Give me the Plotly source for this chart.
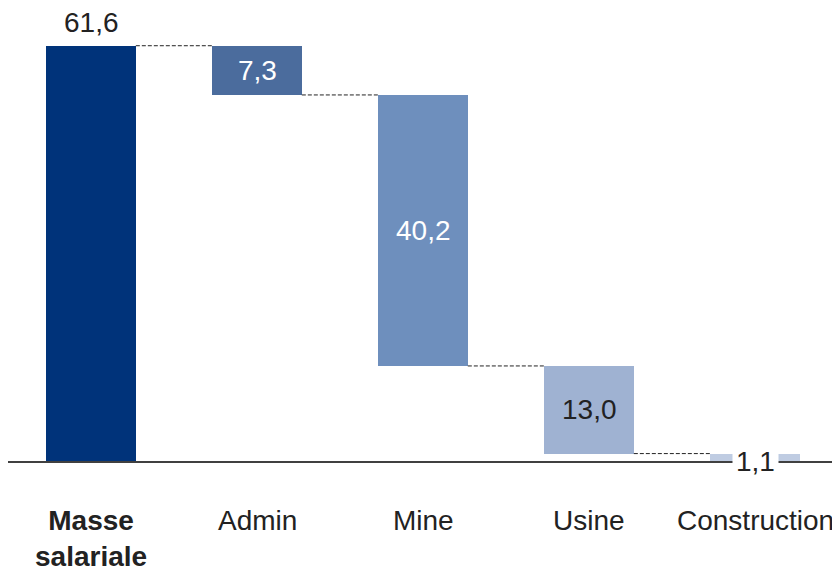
import plotly.graph_objects as go

categories = ["Masse<br>salariale", "Admin", "Mine", "Usine", "Construction"]
values = [61.6, 7.3, 40.2, 13.0, 1.1]
value_labels = ["61,6", "7,3", "40,2", "13,0", "1,1"]
colors = ["#00337a", "#4b6c9d", "#6e8fbd", "#9fb2d2", "#bfcce2"]
label_colors = ["#222222", "#ffffff", "#ffffff", "#222222", "#222222"]
bold_flags = [True, False, False, False, False]

# waterfall geometry derived from the values
bases = [0.0]
tops = [values[0]]
level = values[0]
for v in values[1:]:
    tops.append(level)
    level = round(level - v, 6)
    bases.append(level)
heights = [t - b for t, b in zip(tops, bases)]
xs = list(range(len(categories)))
bar_width = 0.54
FONT = "Liberation Sans, Arial, sans-serif"

fig = go.Figure()
fig.add_trace(go.Bar(
    x=xs, y=heights, base=bases, width=bar_width,
    marker=dict(color=colors, line=dict(width=0)),
    hoverinfo="skip", showlegend=False,
))

shapes = []
for i in range(len(xs) - 1):
    lvl = tops[i + 1]
    shapes.append(dict(type="line", xref="x", yref="y",
                       x0=xs[i] + bar_width / 2, x1=xs[i + 1] - bar_width / 2,
                       y0=lvl, y1=lvl,
                       line=dict(color="#222222", width=1, dash="4px,2px")))

annotations = []
for i, (lab, col) in enumerate(zip(value_labels, label_colors)):
    if i == 0:
        annotations.append(dict(x=xs[i], y=tops[i], xref="x", yref="y", text=lab,
                                showarrow=False, yanchor="bottom", yshift=6,
                                font=dict(size=28, color=col, family=FONT)))
    elif i == len(xs) - 1:
        annotations.append(dict(x=xs[i], y=0, xref="x", yref="y", text=lab,
                                showarrow=False, yanchor="middle", bgcolor="white",
                                borderpad=3,
                                font=dict(size=28, color=col, family=FONT)))
    else:
        annotations.append(dict(x=xs[i], y=(tops[i] + bases[i]) / 2, xref="x", yref="y",
                                text=lab, showarrow=False, yanchor="middle",
                                font=dict(size=28, color=col, family=FONT)))

for i, (cat, b) in enumerate(zip(categories, bold_flags)):
    txt = "<b>" + cat + "</b>" if b else cat
    annotations.append(dict(x=xs[i], y=0, xref="x", yref="y", text=txt,
                            showarrow=False, yanchor="top", yshift=-42,
                            font=dict(size=28, color="#222222", family=FONT)))

fig.update_layout(
    width=832, height=562,
    margin=dict(l=0, r=0, t=2, b=109),
    paper_bgcolor="white", plot_bgcolor="white",
    xaxis=dict(range=[-0.5, 4.512], showticklabels=False, showgrid=False, zeroline=False,
               showline=True, linecolor="#404040", linewidth=2, ticks=""),
    yaxis=dict(range=[0, 66.9], visible=False, showgrid=False, zeroline=False),
    shapes=shapes, annotations=annotations,
    font=dict(family=FONT),
    bargap=0,
)

fig.write_html("out.html")
